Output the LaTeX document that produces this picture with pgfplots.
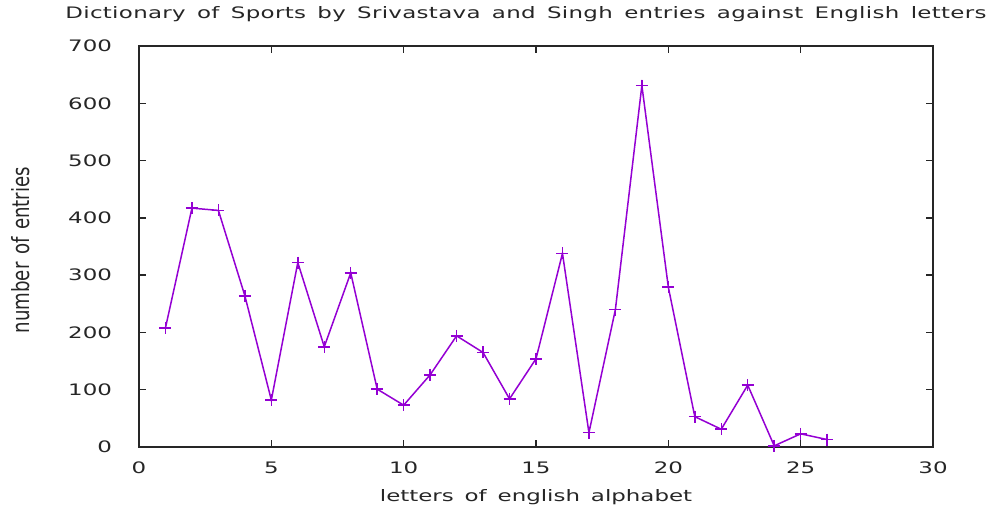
\documentclass[border=0pt]{standalone}
\usepackage{pgfplots}
\pgfplotsset{compat=1.18}
\usepackage{fontspec}
\setmainfont{DejaVu Sans}[FakeStretch=1.45]
\newfontfamily\wordfont{DejaVu Sans}[FakeStretch=1.45, WordSpace=1.5]
\newfontfamily\titlefont{DejaVu Sans}[FakeStretch=1.45, WordSpace=1.5, LetterSpace=2]
\newfontfamily\ylabfont{DejaVu Sans}[WordSpace=1.3]
\definecolor{gpviolet}{RGB}{148,0,211}
\newcommand{\chartfont}{\fontsize{7.9bp}{9.5bp}\selectfont}
\begin{document}
\begin{tikzpicture}
\path[use as bounding box] (0,0) rectangle (494.5bp,256.5bp);
\begin{axis}[
    at={(69.5bp,33bp)}, anchor=south west,
    scale only axis, clip=false,
    width=397bp, height=200.5bp,
    xmin=0, xmax=30, ymin=0, ymax=700,
    xtick={0,5,...,30}, ytick={0,100,...,700},
    tick align=inside,
    major tick length=3.5bp,
    axis line style={line width=0.7bp, black!85},
    every tick/.style={line width=0.7bp, black!85},
    /pgf/number format/assume math mode=true,
    tick label style={font=\chartfont, text=black!85},
    yticklabel style={xshift=-10bp},
    xticklabel style={yshift=-4bp},
    xlabel={letters of english alphabet},
    xlabel style={font=\chartfont\wordfont, at={(axis description cs:0.5,-0.1247)}, anchor=center, inner sep=0pt, text=black!85},
    ylabel={\scalebox{1.15}[1.5]{\ylabfont number of entries}},
    ylabel style={font=\chartfont, at={(axis description cs:-0.1486,0.491)}, anchor=center, rotate=0, inner sep=0pt, text=black!85},
]
\addplot[gpviolet, line width=0.75bp, mark=+, mark size=3bp, mark options={line width=0.75bp}] coordinates {
    (1,208) (2,417) (3,413) (4,264) (5,82) (6,322) (7,175) (8,304)
    (9,101) (10,73) (11,126) (12,194) (13,165) (14,84) (15,154) (16,338)
    (17,25) (18,240) (19,631) (20,279) (21,53) (22,31) (23,108) (24,2)
    (25,23) (26,13)
};
\node[anchor=base west, inner sep=0pt, font=\chartfont\titlefont, text=black!85]
    at (rel axis cs:-0.0932,1.0698)
    {Dictionary of Sports by Srivastava and Singh entries against English letters};
\end{axis}
\end{tikzpicture}
\end{document}
